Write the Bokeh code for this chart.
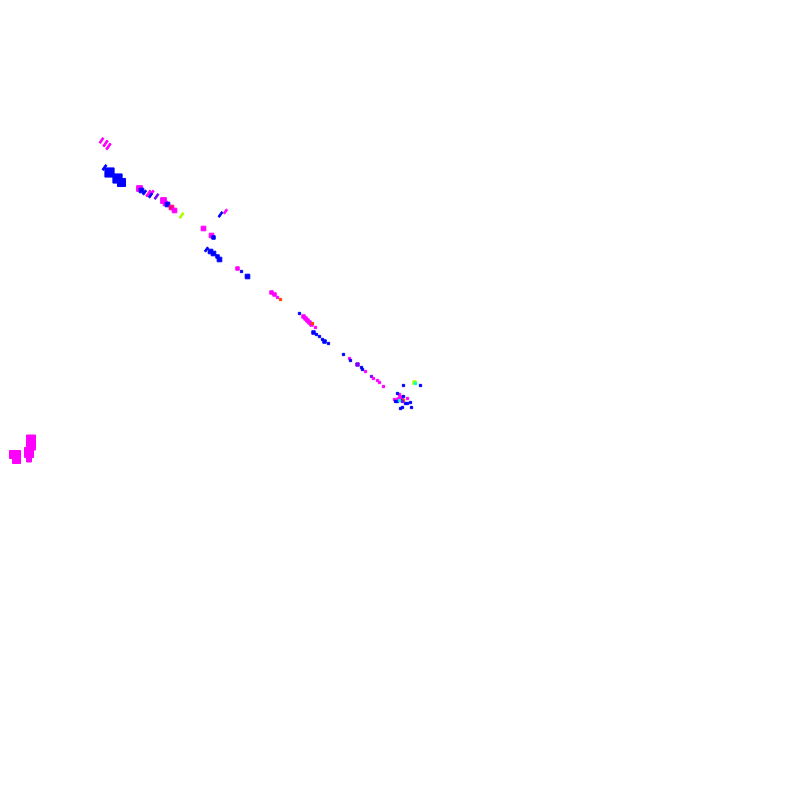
import math
from bokeh.plotting import figure
from bokeh.models import Range1d
from bokeh.embed import file_html
from bokeh.resources import INLINE

BLUE = "#0000ff"
MAG = "#ff00ff"
PUR = "#8000ff"
PINK = "#ff0080"
GRN = "#aaff00"
ORG = "#ff4000"
CYN = "#00ffcc"

# slanted strokes: x, y, length, colour
stroke_x = [101, 105, 108, 104, 144, 148, 151, 150, 156, 181, 220, 225, 206]
stroke_y = [140, 143, 146, 167, 192, 193, 193, 195, 196, 215, 214, 211, 249]
stroke_len = [6, 7, 7, 6, 5, 7, 7, 5, 6, 6, 6, 5, 5]
stroke_c = [MAG, MAG, MAG, BLUE, BLUE, MAG, MAG, BLUE, PUR, GRN, BLUE, MAG, BLUE]

# blobs: x, y, size, colour
blob_x = [109, 117, 121, 139, 141, 163, 165, 167, 171, 174,
          203, 211, 213, 210, 213, 217, 219, 237, 241, 247,
          271, 274, 277, 280, 299, 303, 305, 307, 309, 311, 312, 315,
          313, 316, 319, 322, 324, 328,
          343, 349, 350, 357, 361, 362, 365, 371, 373, 377, 379, 383,
          399, 400, 398, 402, 394, 407,
          397, 401, 395, 397, 403, 405, 407, 410, 411, 402, 400,
          403, 402, 399, 414, 415, 403, 420]
blob_y = [172, 178, 182, 188, 190, 200, 203, 204, 207, 210,
          228, 235, 237, 251, 253, 256, 259, 268, 271, 276,
          292, 294, 297, 299, 313, 316, 318, 320, 322, 324, 323, 327,
          332, 334, 336, 339, 341, 343,
          354, 358, 360, 364, 367, 369, 371, 376, 378, 380, 382, 386,
          394, 397, 399, 399, 399, 398,
          393, 400, 401, 401, 396, 403, 403, 402, 407, 407, 408,
          400, 401, 400, 382, 383, 385, 385]
blob_s = [8, 8, 7, 5, 4, 5, 4, 4, 4, 4,
          4, 4, 3, 4, 4, 3, 4, 3, 2, 4,
          3, 3, 2, 2, 2, 3, 3, 3, 3, 3, 2, 2,
          3, 2, 2, 2, 3, 2,
          2, 2, 2, 3, 2, 2, 2, 2, 2, 2, 2, 2,
          2, 3, 3, 2, 2, 2,
          2, 2, 2, 2, 2, 2, 2, 2, 2, 2, 2,
          2, 2, 2, 3, 2, 2, 2]
blob_c = [BLUE, BLUE, BLUE, MAG, BLUE, MAG, MAG, BLUE, PINK, MAG,
          MAG, MAG, BLUE, BLUE, BLUE, BLUE, BLUE, MAG, BLUE, BLUE,
          MAG, MAG, MAG, ORG, BLUE, MAG, MAG, MAG, MAG, MAG, ORG, MAG,
          BLUE, BLUE, BLUE, BLUE, BLUE, BLUE,
          BLUE, MAG, BLUE, PUR, BLUE, BLUE, MAG, PUR, MAG, MAG, MAG, MAG,
          MAG, MAG, MAG, MAG, MAG, MAG,
          BLUE, BLUE, BLUE, BLUE, BLUE, BLUE, BLUE, BLUE, BLUE, BLUE, BLUE,
          ORG, PUR, CYN, GRN, CYN, BLUE, BLUE]

# large rectangles (bottom left)
big_x = [14.5, 16, 30.5, 28.5, 28.5]
big_y = [454, 459, 442, 452, 458]
big_w = [11, 8, 9, 9, 5]
big_h = [8, 8, 15, 10, 7]

p = figure(width=784, height=784, output_backend="svg", toolbar_location=None,
           x_range=Range1d(0, 784), y_range=Range1d(784, 0), min_border=0)
p.axis.visible = False
p.grid.visible = False
p.outline_line_color = None
p.background_fill_color = "white"
p.border_fill_color = "white"

p.rect(x=big_x, y=big_y, width=big_w, height=big_h, color=MAG)
p.rect(x=blob_x, y=blob_y, width=[s * 1.15 for s in blob_s],
       height=[s * 1.15 for s in blob_s], color=blob_c)
p.rect(x=stroke_x, y=stroke_y, width=stroke_len, height=[1.8] * len(stroke_x),
       angle=math.radians(55), color=stroke_c)

open("out.html", "w").write(file_html(p, INLINE))
